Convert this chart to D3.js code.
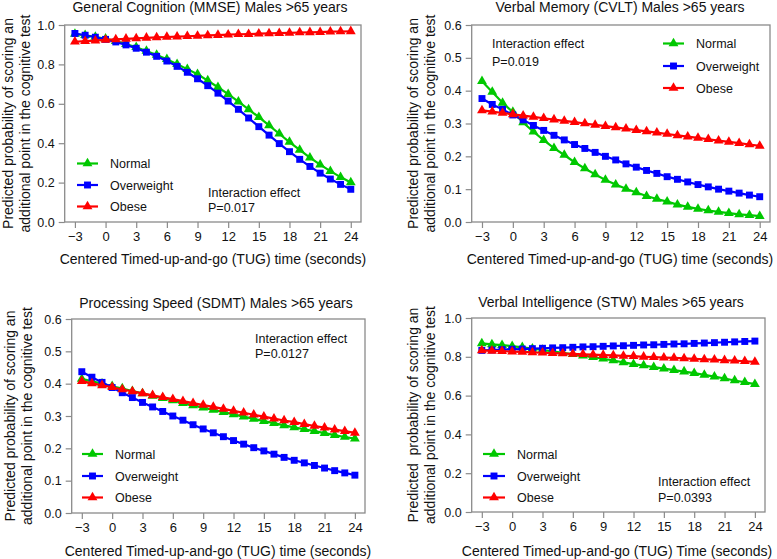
<!DOCTYPE html>
<html><head><meta charset="utf-8">
<script src="https://cdn.jsdelivr.net/npm/d3@7"></script>
<style>
html,body{margin:0;padding:0;background:#fff;}
svg{display:block;font-family:"Liberation Sans",Arial,sans-serif;}
</style></head>
<body>
<svg id="chart" width="777" height="559"></svg>
<script>
// ---- data ----
const tugTimes = [-3,-2,-1,0,1,2,3,4,5,6,7,8,9,10,11,12,13,14,15,16,17,18,19,20,21,22,23,24];
const xTicks = [-3,0,3,6,9,12,15,18,21,24];
const seriesNames = ["Normal","Overweight","Obese"];

const mmseNormal = [0.955,0.948,0.940,0.930,0.918,0.903,0.887,0.868,0.848,0.826,0.801,0.776,0.750,0.718,0.684,0.649,0.611,0.572,0.532,0.490,0.448,0.406,0.366,0.327,0.291,0.258,0.228,0.201];
const mmseOverweight = [0.957,0.948,0.938,0.927,0.914,0.899,0.882,0.862,0.841,0.817,0.790,0.760,0.727,0.692,0.654,0.614,0.572,0.528,0.484,0.441,0.398,0.357,0.318,0.282,0.248,0.218,0.191,0.166];
const mmseObese = [0.915,0.918,0.921,0.924,0.927,0.930,0.932,0.935,0.937,0.939,0.941,0.943,0.945,0.947,0.949,0.951,0.953,0.954,0.956,0.957,0.959,0.960,0.962,0.963,0.964,0.966,0.967,0.968];

const cvltNormal = [0.429,0.396,0.363,0.335,0.303,0.275,0.249,0.225,0.204,0.182,0.163,0.145,0.128,0.114,0.101,0.090,0.079,0.070,0.062,0.053,0.046,0.040,0.035,0.031,0.027,0.023,0.021,0.018];
const cvltOverweight = [0.376,0.358,0.343,0.326,0.311,0.294,0.279,0.264,0.250,0.236,0.224,0.212,0.200,0.189,0.177,0.167,0.157,0.148,0.138,0.130,0.122,0.114,0.107,0.100,0.094,0.088,0.082,0.077];
const cvltObese = [0.340,0.336,0.332,0.328,0.324,0.320,0.316,0.312,0.308,0.304,0.300,0.296,0.292,0.288,0.284,0.280,0.276,0.272,0.268,0.264,0.260,0.256,0.252,0.248,0.244,0.240,0.236,0.232];

const sdmtNormal = [0.415,0.407,0.400,0.392,0.385,0.377,0.370,0.362,0.355,0.348,0.340,0.333,0.326,0.319,0.312,0.305,0.298,0.291,0.284,0.278,0.271,0.265,0.259,0.253,0.247,0.241,0.235,0.230];
const sdmtOverweight = [0.437,0.420,0.404,0.388,0.372,0.357,0.342,0.328,0.314,0.300,0.287,0.273,0.260,0.248,0.236,0.224,0.213,0.202,0.192,0.182,0.172,0.163,0.155,0.147,0.139,0.131,0.124,0.117];
const sdmtObese = [0.408,0.401,0.395,0.389,0.382,0.376,0.370,0.364,0.358,0.352,0.346,0.340,0.334,0.328,0.322,0.316,0.310,0.304,0.298,0.292,0.286,0.281,0.275,0.269,0.264,0.258,0.253,0.248];

const stwNormal = [0.869,0.864,0.860,0.855,0.849,0.842,0.835,0.828,0.820,0.813,0.806,0.798,0.790,0.781,0.771,0.762,0.755,0.747,0.739,0.731,0.724,0.716,0.707,0.698,0.688,0.678,0.669,0.659];
const stwOverweight = [0.833,0.835,0.837,0.839,0.840,0.842,0.844,0.846,0.847,0.849,0.851,0.852,0.854,0.856,0.857,0.859,0.861,0.862,0.864,0.866,0.867,0.869,0.871,0.873,0.875,0.877,0.879,0.881];
const stwObese = [0.833,0.831,0.829,0.827,0.825,0.823,0.821,0.819,0.817,0.815,0.813,0.811,0.809,0.807,0.805,0.803,0.800,0.798,0.796,0.794,0.792,0.789,0.787,0.785,0.782,0.780,0.777,0.774];

const titles = ["General Cognition (MMSE) Males >65 years","Verbal Memory (CVLT) Males >65 years","Processing Speed (SDMT) Males >65 years","Verbal Intelligence (STW) Males >65 years"];
const xLabels = ["Centered Timed-up-and-go (TUG) time (seconds)","Centered Timed-up-and-go (TUG) time (seconds)","Centered Timed-up-and-go (TUG) time (seconds)","Centered Timed-up-and-go (TUG) Time (seconds)"];
const yLabel1 = ["Predicted probability of scoring an","Predicted probability of scoring an","Predicted probability of scoring an","Predicted  probability of scoring an"];
const yLabel2 = "additional point in the cognitive test";
const pValues = ["P=0.017","P=0.019","P=0.0127","P=0.0393"];
const yMax = [1.0,0.6,0.6,1.0];
const yTicks = [[0,0.2,0.4,0.6,0.8,1.0],[0,0.1,0.2,0.3,0.4,0.5,0.6],[0,0.1,0.2,0.3,0.4,0.5,0.6],[0,0.2,0.4,0.6,0.8,1.0]];
const panelData = [
  [mmseNormal,mmseOverweight,mmseObese],
  [cvltNormal,cvltOverweight,cvltObese],
  [sdmtNormal,sdmtOverweight,sdmtObese],
  [stwNormal,stwOverweight,stwObese]
];

// ---- layout ----
const colors = ["#00c800","#0000ff","#ff0000"];
const symbols = [d3.symbolTriangle,d3.symbolSquare,d3.symbolTriangle];
const symSizes = [42,48,42];
const frames = [
  {l:64.7,r:361,t:25,b:222, titleX:210,titleY:12, xlabX:213,xlabY:264, ylx:[8,25],
   leg:{x1:77,x2:98,tx:110,ys:[163.5,185,206.5]}, inter:{x:208,ys:[192,207]}},
  {l:471.7,r:770,t:25,b:222, titleX:620,titleY:12, xlabX:620,xlabY:264, ylx:[413,430],
   leg:{x1:663,x2:684,tx:696,ys:[43.5,66,88]}, inter:{x:492,ys:[43.5,61]}},
  {l:71.7,r:365,t:319,b:513, titleX:216,titleY:308, xlabX:218,xlabY:556, ylx:[10,27],
   leg:{x1:82,x2:103,tx:115,ys:[454,476,497.5]}, inter:{x:255,ys:[338,353]}},
  {l:471.7,r:765,t:318,b:512, titleX:611,titleY:307, xlabX:617,xlabY:556, ylx:[413,430],
   leg:{x1:483,x2:505,tx:517,ys:[454,476,497.5]}, inter:{x:658,ys:[481,497]}}
];

const svg = d3.select("#chart");
const frameColor = "#8a8a8a";

frames.forEach((f,i)=>{
  const x = d3.scaleLinear().domain([-4,25]).range([f.l,f.r]);
  const y = d3.scaleLinear().domain([0,yMax[i]]).range([f.b,f.t]);
  const g = svg.append("g");

  // axes
  const xa = g.append("g").attr("transform",`translate(0,${f.b})`)
    .call(d3.axisBottom(x).tickValues(xTicks).tickSize(6).tickPadding(4).tickFormat(d3.format("d")));
  const ya = g.append("g").attr("transform",`translate(${f.l},0)`)
    .call(d3.axisLeft(y).tickValues(yTicks[i]).tickSize(6).tickPadding(4).tickFormat(d3.format(".1f")));
  [xa,ya].forEach((a,ai)=>{
    a.select(".domain").remove();
    a.selectAll("line").attr("stroke",frameColor).attr("stroke-width",1.2);
    a.selectAll("text").attr("fill","#111").style("font-size",ai===0?"13px":"12.5px").style("font-family","'Liberation Sans',Arial,sans-serif");
  });
  g.append("rect").attr("x",f.l).attr("y",f.t).attr("width",f.r-f.l).attr("height",f.b-f.t)
    .attr("fill","none").attr("stroke",frameColor).attr("stroke-width",1.3);

  // series
  const line = d3.line().x((d,k)=>x(tugTimes[k])).y(d=>y(d));
  panelData[i].forEach((vals,s)=>{
    g.append("path").datum(vals).attr("d",line).attr("fill","none")
      .attr("stroke",colors[s]).attr("stroke-width",2.2);
    g.selectAll(null).data(vals).enter().append("path")
      .attr("d",d3.symbol().type(symbols[s]).size(symSizes[s]))
      .attr("transform",(d,k)=>`translate(${x(tugTimes[k])},${y(d)})`)
      .attr("fill",colors[s]);
  });

  // legend
  seriesNames.forEach((n,s)=>{
    const yy = f.leg.ys[s];
    g.append("line").attr("x1",f.leg.x1).attr("x2",f.leg.x2).attr("y1",yy).attr("y2",yy)
      .attr("stroke",colors[s]).attr("stroke-width",2.2);
    g.append("path").attr("d",d3.symbol().type(symbols[s]).size(symSizes[s]))
      .attr("transform",`translate(${(f.leg.x1+f.leg.x2)/2},${yy})`).attr("fill",colors[s]);
    g.append("text").attr("x",f.leg.tx).attr("y",yy+4.5).text(n)
      .style("font-size","12.5px").attr("fill","#111");
  });

  // interaction text
  g.append("text").attr("x",f.inter.x).attr("y",f.inter.ys[0]+4.5).text("Interaction effect")
    .style("font-size","12.5px").attr("fill","#111");
  g.append("text").attr("x",f.inter.x).attr("y",f.inter.ys[1]+4.5).text(pValues[i])
    .style("font-size","12.5px").attr("fill","#111");

  // title
  g.append("text").attr("x",f.titleX).attr("y",f.titleY).attr("text-anchor","middle")
    .text(titles[i]).style("font-size","14px").attr("fill","#111");
  // x label
  g.append("text").attr("x",f.xlabX).attr("y",f.xlabY).attr("text-anchor","middle")
    .text(xLabels[i]).style("font-size","14px").attr("fill","#111");
  // y label (two lines, rotated)
  const cy = (f.t+f.b)/2;
  [yLabel1[i],yLabel2].forEach((t,k)=>{
    g.append("text").attr("transform",`translate(${f.ylx[k]+5},${cy}) rotate(-90)`)
      .attr("text-anchor","middle").style("white-space","pre")
      .text(t).style("font-size","14px").attr("fill","#111");
  });
});
</script>
</body></html>
